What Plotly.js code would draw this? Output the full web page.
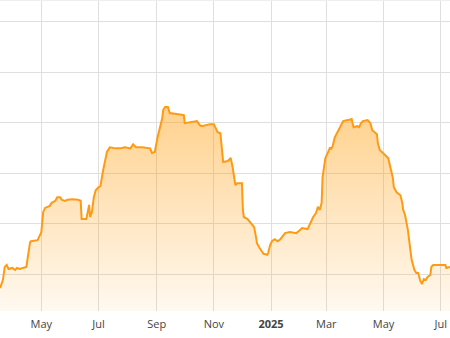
<!DOCTYPE html>
<html>
<head>
<meta charset="utf-8">
<script src="https://cdn.plot.ly/plotly-3.0.1.min.js"></script>
<style>html,body{margin:0;padding:0;background:#fff;}#chart{width:450px;height:338px;}</style>
</head>
<body>
<div id="chart"></div>
<script>
const dates = [
"2024-03-18","2024-03-21","2024-03-23","2024-03-25","2024-03-27","2024-03-31","2024-04-03","2024-04-05","2024-04-08","2024-04-11",
"2024-04-15","2024-04-19","2024-04-20","2024-04-27","2024-04-30","2024-05-01","2024-05-03","2024-05-05","2024-05-10","2024-05-12",
"2024-05-16","2024-05-18","2024-05-21","2024-05-23","2024-05-26","2024-05-29","2024-06-03","2024-06-09","2024-06-12","2024-06-13",
"2024-06-18","2024-06-20","2024-06-21","2024-06-22","2024-06-24","2024-06-26","2024-06-28","2024-07-01","2024-07-03","2024-07-06",
"2024-07-10","2024-07-13","2024-07-19","2024-07-24","2024-07-29","2024-08-04","2024-08-07","2024-08-10","2024-08-16","2024-08-25",
"2024-08-27","2024-08-30","2024-09-02","2024-09-07","2024-09-08","2024-09-10","2024-09-13","2024-09-15","2024-09-21","2024-09-30",
"2024-10-01","2024-10-07","2024-10-14","2024-10-17","2024-10-19","2024-10-28","2024-11-01","2024-11-03","2024-11-05","2024-11-08",
"2024-11-11","2024-11-16","2024-11-19","2024-11-21","2024-11-24","2024-11-26","2024-12-01","2024-12-02","2024-12-03","2024-12-07",
"2024-12-14","2024-12-16","2024-12-17","2024-12-20","2024-12-22","2024-12-24","2024-12-28","2024-12-29","2024-12-31","2025-01-02",
"2025-01-05","2025-01-08","2025-01-11","2025-01-14","2025-01-16","2025-01-21","2025-01-28","2025-02-01","2025-02-03","2025-02-09",
"2025-02-12","2025-02-15","2025-02-18","2025-02-20","2025-02-22","2025-02-24","2025-02-25","2025-02-28","2025-03-03","2025-03-05",
"2025-03-06","2025-03-08","2025-03-10","2025-03-13","2025-03-17","2025-03-19","2025-03-24","2025-03-28","2025-03-30","2025-04-03",
"2025-04-05","2025-04-07","2025-04-09","2025-04-14","2025-04-17","2025-04-19","2025-04-24","2025-04-25","2025-04-27","2025-04-30",
"2025-05-03","2025-05-06","2025-05-09","2025-05-11","2025-05-12","2025-05-15","2025-05-19","2025-05-21","2025-05-22","2025-05-24",
"2025-05-27","2025-05-29","2025-05-31","2025-06-03","2025-06-05","2025-06-07","2025-06-09","2025-06-11","2025-06-13","2025-06-15",
"2025-06-17","2025-06-20","2025-06-21","2025-06-23","2025-06-30","2025-07-06","2025-07-07","2025-07-11"
];
const values = [
7.2,8.8,11.4,11.8,11.0,11.2,10.8,11.2,11.0,11.2,
11.4,16.3,16.5,16.7,18.1,18.3,22.3,23.1,23.5,24.1,
24.5,25.2,25.2,24.7,24.5,24.7,24.8,24.7,24.5,20.9,
20.9,22.7,23.7,21.3,22.3,25.2,26.6,27.2,27.4,30.6,
34.2,35.1,34.9,34.9,35.1,34.9,35.7,35.1,35.1,34.9,
34.0,34.2,37.1,40.9,42.5,43.1,43.1,41.9,41.7,41.5,
39.9,40.1,40.3,39.5,39.3,39.7,39.7,38.9,38.1,37.9,
32.2,32.4,33.0,31.2,27.6,28.0,28.0,22.7,21.3,20.9,
19.3,17.3,16.1,15.1,14.4,14.0,13.8,14.2,15.7,16.5,
16.9,16.5,16.9,17.7,18.1,18.3,18.1,18.7,19.1,18.9,
20.1,21.3,22.1,23.3,22.7,24.1,29.2,33.0,34.2,35.1,
34.7,35.5,37.1,38.1,39.5,40.3,40.5,40.7,39.1,39.3,
39.1,39.9,40.3,40.5,39.9,38.5,37.7,35.9,34.6,34.0,
33.4,33.0,30.6,29.0,27.2,26.2,25.6,24.1,22.7,21.7,
18.7,15.3,12.8,10.8,10.2,10.2,8.8,8.0,9.0,8.8,
9.4,9.8,11.4,11.8,11.8,11.8,11.2,11.4
];
const tickDates = ["2024-05-01","2024-07-01","2024-09-01","2024-11-01","2025-01-01","2025-03-01","2025-05-01","2025-07-01"];
const tickLabels = ["May","Jul","Sep","Nov","<b>2025</b>","Mar","May","Jul"];

const trace = {
  x: dates, y: values, type: 'scatter', mode: 'lines',
  line: {color: '#ff9a14', width: 2},
  fill: 'tozeroy',
  fillgradient: {
    type: 'vertical',
    start: 2.7, stop: 43,
    colorscale: [[0, 'rgba(255,153,0,0.06)'], [1, 'rgba(255,153,0,0.45)']]
  },
  hoverinfo: 'skip'
};
const layout = {
  width: 450, height: 338,
  margin: {l: 0, r: 0, t: 0, b: 27},
  paper_bgcolor: '#ffffff', plot_bgcolor: '#ffffff',
  showlegend: false,
  xaxis: {
    type: 'date',
    range: ['2024-03-17 22:00', '2025-07-10 22:00'],
    tickmode: 'array', tickvals: tickDates, ticktext: tickLabels,
    showgrid: true, gridcolor: '#dfdfdf', gridwidth: 1,
    zeroline: false, showline: false, ticks: '',
    ticklabelstandoff: 5,
    tickfont: {family: 'Open Sans, sans-serif', size: 11, color: '#444'}
  },
  yaxis: {
    range: [2.67, 64.3], tick0: 0, dtick: 10,
    showgrid: true, gridcolor: '#dfdfdf', gridwidth: 1,
    showticklabels: false, zeroline: false, showline: false, ticks: ''
  },
  shapes: [{type: 'line', xref: 'paper', yref: 'paper', x0: 0, x1: 1, y0: 1, y1: 1,
    line: {color: '#eeeeee', width: 2}}]
};
Plotly.newPlot('chart', [trace], layout, {staticPlot: true, displayModeBar: false});
</script>
</body>
</html>
